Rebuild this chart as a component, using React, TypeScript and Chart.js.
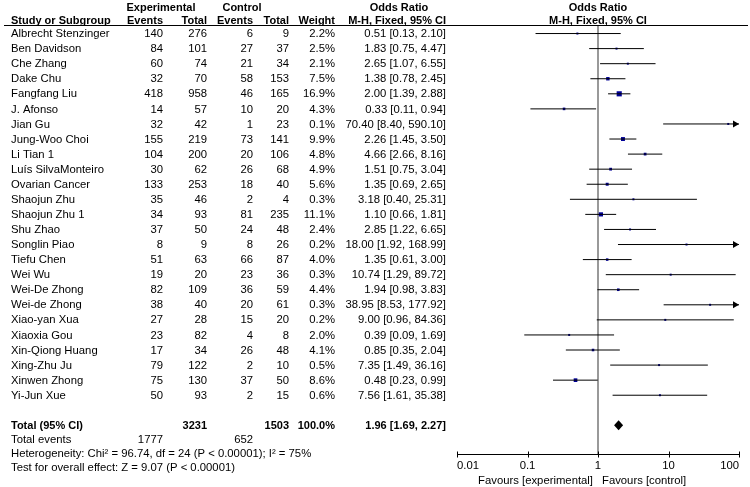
import { useEffect, useRef } from 'react';
import { Chart, registerables } from 'chart.js';

Chart.register(...registerables);

const studies = [
  'Albrecht Stenzinger', 'Ben Davidson', 'Che Zhang', 'Dake Chu', 'Fangfang Liu', 'J. Afonso', 'Jian Gu',
  'Jung-Woo Choi', 'Li Tian 1', 'Luís SilvaMonteiro', 'Ovarian Cancer', 'Shaojun Zhu', 'Shaojun Zhu 1',
  'Shu Zhao', 'Songlin Piao', 'Tiefu Chen', 'Wei Wu', 'Wei-De Zhong', 'Wei-de Zhong', 'Xiao-yan Xua',
  'Xiaoxia Gou', 'Xin-Qiong Huang', 'Xing-Zhu Ju', 'Xinwen Zhong', 'Yi-Jun Xue',
];
const expEvents = [140, 84, 60, 32, 418, 14, 32, 155, 104, 30, 133, 35, 34, 37, 8, 51, 19, 82, 38, 27, 23, 17, 79, 75, 50];
const expTotal = [276, 101, 74, 70, 958, 57, 42, 219, 200, 62, 253, 46, 93, 50, 9, 63, 20, 109, 40, 28, 82, 34, 122, 130, 93];
const ctrlEvents = [6, 27, 21, 58, 46, 10, 1, 73, 20, 26, 18, 2, 81, 24, 8, 66, 23, 36, 20, 15, 4, 26, 2, 37, 2];
const ctrlTotal = [9, 37, 34, 153, 165, 20, 23, 141, 106, 68, 40, 4, 235, 48, 26, 87, 36, 59, 61, 20, 8, 48, 10, 50, 15];
const weights = [2.2, 2.5, 2.1, 7.5, 16.9, 4.3, 0.1, 9.9, 4.8, 4.9, 5.6, 0.3, 11.1, 2.4, 0.2, 4.0, 0.3, 4.4, 0.3, 0.2, 2.0, 4.1, 0.5, 8.6, 0.6];
const oddsRatios = [0.51, 1.83, 2.65, 1.38, 2.0, 0.33, 70.4, 2.26, 4.66, 1.51, 1.35, 3.18, 1.1, 2.85, 18.0, 1.35, 10.74, 1.94, 38.95, 9.0, 0.39, 0.85, 7.35, 0.48, 7.56];
const ciLow = [0.13, 0.75, 1.07, 0.78, 1.39, 0.11, 8.4, 1.45, 2.66, 0.75, 0.69, 0.4, 0.66, 1.22, 1.92, 0.61, 1.29, 0.98, 8.53, 0.96, 0.09, 0.35, 1.49, 0.23, 1.61];
const ciHigh = [2.1, 4.47, 6.55, 2.45, 2.88, 0.94, 590.1, 3.5, 8.16, 3.04, 2.65, 25.31, 1.81, 6.65, 168.99, 3.0, 89.72, 3.83, 177.92, 84.36, 1.69, 2.04, 36.16, 0.99, 35.38];

const xTicks = [0.01, 0.1, 1, 10, 100];
const xTickLabels = ['0.01', '0.1', '1', '10', '100'];

const totalLabel = 'Total (95% CI)';
const totalExpN = 3231;
const totalCtrlN = 1503;
const totalWeight = '100.0%';
const pooled = [1.96, 1.69, 2.27];
const totalEventsLabel = 'Total events';
const totalExpEvents = 1777;
const totalCtrlEvents = 652;
const heterogeneityText = 'Heterogeneity: Chi² = 96.74, df = 24 (P < 0.00001); I² = 75%';
const overallEffectText = 'Test for overall effect: Z = 9.07 (P < 0.00001)';
const favoursLeft = 'Favours [experimental]';
const favoursRight = 'Favours [control]';

const TOTAL_ROW = 26;
const FONT = '"Liberation Sans", Arial, Helvetica, sans-serif';
const REG = `11.3px ${FONT}`;
const BOLD = `bold 11px ${FONT}`;
const SQUARE = '#000099';

const forestPlugin = {
  id: 'forest',
  beforeDatasetsDraw(chart: any) {
    const { ctx, chartArea, scales } = chart;
    const px = scales.x.getPixelForValue(1);
    ctx.save();
    ctx.strokeStyle = '#999999';
    ctx.lineWidth = 2;
    ctx.beginPath();
    ctx.moveTo(px, chartArea.top);
    ctx.lineTo(px, chartArea.bottom);
    ctx.stroke();
    ctx.restore();
  },
  afterDatasetsDraw(chart: any) {
    const { ctx, chartArea, scales } = chart;
    const xs = scales.x;
    const ys = scales.y;
    ctx.save();

    // arrows for CIs beyond the axis
    ctx.fillStyle = '#000';
    ciHigh.forEach((hi, i) => {
      if (hi > xTicks[xTicks.length - 1]) {
        const yy = ys.getPixelForValue(i);
        const xr = chartArea.right;
        ctx.beginPath();
        ctx.moveTo(xr, yy);
        ctx.lineTo(xr - 6, yy - 3.5);
        ctx.lineTo(xr - 6, yy + 3.5);
        ctx.closePath();
        ctx.fill();
      }
    });
    ciLow.forEach((lo, i) => {
      if (lo < xTicks[0]) {
        const yy = ys.getPixelForValue(i);
        const xl = chartArea.left;
        ctx.beginPath();
        ctx.moveTo(xl, yy);
        ctx.lineTo(xl + 6, yy - 3.5);
        ctx.lineTo(xl + 6, yy + 3.5);
        ctx.closePath();
        ctx.fill();
      }
    });

    // pooled diamond
    const dy = ys.getPixelForValue(TOTAL_ROW);
    ctx.beginPath();
    ctx.moveTo(xs.getPixelForValue(pooled[1]), dy);
    ctx.lineTo(xs.getPixelForValue(pooled[0]), dy - 5);
    ctx.lineTo(xs.getPixelForValue(pooled[2]), dy);
    ctx.lineTo(xs.getPixelForValue(pooled[0]), dy + 5);
    ctx.closePath();
    ctx.fill();

    // x axis
    const ay = Math.round(chartArea.bottom) + 0.5;
    ctx.strokeStyle = '#000';
    ctx.lineWidth = 1;
    ctx.beginPath();
    ctx.moveTo(xs.getPixelForValue(xTicks[0]), ay);
    ctx.lineTo(xs.getPixelForValue(xTicks[xTicks.length - 1]), ay);
    xTicks.forEach((t) => {
      const tx = Math.round(xs.getPixelForValue(t)) + 0.5;
      ctx.moveTo(tx, ay - 3);
      ctx.lineTo(tx, ay + 3);
    });
    ctx.stroke();

    ctx.font = REG;
    ctx.textBaseline = 'middle';
    xTicks.forEach((t, k) => {
      const tx = xs.getPixelForValue(t);
      ctx.textAlign = k === 0 ? 'left' : k === xTicks.length - 1 ? 'right' : 'center';
      ctx.fillText(xTickLabels[k], tx, ay + 11.5);
    });
    const p1 = xs.getPixelForValue(1);
    ctx.textAlign = 'right';
    ctx.fillText(favoursLeft, p1 - 5, ay + 26);
    ctx.textAlign = 'left';
    ctx.fillText(favoursRight, p1 + 4, ay + 26);

    // headers
    ctx.font = BOLD;
    ctx.textAlign = 'center';
    ctx.fillText('Experimental', 161, 7.5);
    ctx.fillText('Control', 242, 7.5);
    ctx.fillText('Odds Ratio', 399, 7.5);
    ctx.fillText('Odds Ratio', p1, 7.5);
    ctx.fillText('M-H, Fixed, 95% CI', p1, 21);
    ctx.textAlign = 'left';
    ctx.fillText('Study or Subgroup', 11, 21);
    ctx.textAlign = 'right';
    ctx.fillText('Events', 163, 21);
    ctx.fillText('Total', 207, 21);
    ctx.fillText('Events', 253, 21);
    ctx.fillText('Total', 289, 21);
    ctx.fillText('Weight', 335, 21);
    ctx.fillText('M-H, Fixed, 95% CI', 446, 21);

    ctx.beginPath();
    ctx.moveTo(4, Math.round(chartArea.top) - 0.5);
    ctx.lineTo(748, Math.round(chartArea.top) - 0.5);
    ctx.stroke();

    // study rows
    ctx.font = REG;
    studies.forEach((name, i) => {
      const yy = ys.getPixelForValue(i) + 0.5;
      ctx.textAlign = 'left';
      ctx.fillText(name, 11, yy);
      ctx.textAlign = 'right';
      ctx.fillText(String(expEvents[i]), 163, yy);
      ctx.fillText(String(expTotal[i]), 207, yy);
      ctx.fillText(String(ctrlEvents[i]), 253, yy);
      ctx.fillText(String(ctrlTotal[i]), 289, yy);
      ctx.fillText(weights[i].toFixed(1) + '%', 335, yy);
      ctx.fillText(
        `${oddsRatios[i].toFixed(2)} [${ciLow[i].toFixed(2)}, ${ciHigh[i].toFixed(2)}]`,
        446,
        yy,
      );
    });

    // totals
    const ty = dy + 0.5;
    ctx.font = BOLD;
    ctx.textAlign = 'left';
    ctx.fillText(totalLabel, 11, ty);
    ctx.textAlign = 'right';
    ctx.fillText(String(totalExpN), 207, ty);
    ctx.fillText(String(totalCtrlN), 289, ty);
    ctx.fillText(totalWeight, 335, ty);
    ctx.fillText(`${pooled[0].toFixed(2)} [${pooled[1].toFixed(2)}, ${pooled[2].toFixed(2)}]`, 446, ty);

    ctx.font = REG;
    ctx.textAlign = 'left';
    ctx.fillText(totalEventsLabel, 11, ty + 14);
    ctx.textAlign = 'right';
    ctx.fillText(String(totalExpEvents), 163, ty + 14);
    ctx.fillText(String(totalCtrlEvents), 253, ty + 14);
    ctx.textAlign = 'left';
    ctx.fillText(heterogeneityText, 11, ty + 28);
    ctx.fillText(overallEffectText, 11, ty + 42);

    ctx.restore();
  },
};

export default function App() {
  const ref = useRef<HTMLCanvasElement | null>(null);

  useEffect(() => {
    if (!ref.current) return;
    const ciDatasets = studies.map((s, i) => ({
      type: 'line' as const,
      label: s,
      data: [
        { x: ciLow[i], y: i },
        { x: ciHigh[i], y: i },
      ],
      borderColor: '#000000',
      borderWidth: 1,
      pointRadius: 0,
      showLine: true,
      fill: false,
    }));
    const pointDataset = {
      type: 'scatter' as const,
      label: 'Odds Ratio',
      data: oddsRatios.map((v, i) => ({ x: v, y: i })),
      pointStyle: 'rect',
      pointRadius: weights.map((w) => Math.max(2, 1.25 * Math.sqrt(w)) / Math.SQRT2),
      backgroundColor: SQUARE,
      borderColor: SQUARE,
      borderWidth: 0,
    };
    const chart = new Chart(ref.current, {
      type: 'scatter',
      data: { datasets: [...ciDatasets, pointDataset] as any },
      options: {
        animation: false,
        responsive: false,
        maintainAspectRatio: false,
        layout: { padding: { left: 457, right: 11, top: 26, bottom: 33 } },
        plugins: { legend: { display: false }, tooltip: { enabled: false } },
        scales: {
          x: { type: 'logarithmic', min: xTicks[0], max: xTicks[xTicks.length - 1], display: false },
          y: { type: 'linear', reverse: true, min: -0.5, max: 27.9, display: false },
        },
      },
      plugins: [forestPlugin],
    });
    return () => chart.destroy();
  }, []);

  return (
    <div style={{ position: 'fixed', left: 0, top: 0, width: 750, height: 487, background: '#fff' }}>
      <canvas ref={ref} width={750} height={487} style={{ display: 'block', width: 750, height: 487 }} />
    </div>
  );
}
